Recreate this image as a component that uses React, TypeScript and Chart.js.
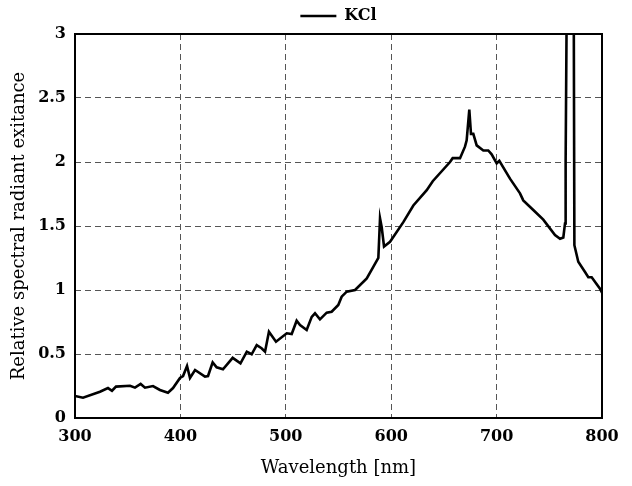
import React, { useEffect, useRef } from "react";
import { Chart, registerables } from "chart.js";

Chart.register(...registerables);

const seriesLabel = "KCl";

const wavelengths: number[] = [
  300, 307.6, 323.7, 331.3, 335.1, 338.9, 352.2, 356.9, 362.3, 366.4, 374, 380.6, 388.2, 393,
  399.6, 402.5, 406.3, 409.1, 413.9, 423.3, 426.2, 430.6, 434.4, 440.4, 449.6, 457, 463, 467.6,
  472.4, 477, 480.3, 484, 490.7, 500.9, 505.6, 510.3, 513.5, 519.8, 524.6, 527.7, 532.4, 538.8,
  543.5, 549.8, 553, 557.8, 565.7, 576.8, 583, 587.8, 589.4, 591, 593.2, 598.9, 611.5, 621,
  633.7, 639.4, 655.8, 658.3, 665.3, 670, 671.6, 674.1, 675.7, 677.9, 681.1, 687.4, 692.1,
  695.3, 700.1, 702.6, 712.7, 722.2, 725.3, 734.8, 744.3, 755.4, 760.2, 763.3, 764.9, 765.5,
  766.5, 773.2, 773.8, 777.5, 783.9, 787, 790.2, 798.1, 800,
];

const exitance: number[] = [
  0.172, 0.159, 0.205, 0.234, 0.213, 0.245, 0.252, 0.237, 0.266, 0.237, 0.25, 0.219, 0.198, 0.234,
  0.3125, 0.328, 0.406, 0.3125, 0.375, 0.323, 0.328, 0.435, 0.396, 0.38, 0.47, 0.427, 0.518, 0.498,
  0.57, 0.545, 0.518, 0.674, 0.596, 0.662, 0.656, 0.76, 0.727, 0.688, 0.79, 0.818, 0.771, 0.823,
  0.83, 0.883, 0.948, 0.987, 1.0, 1.09, 1.18, 1.25, 1.56, 1.49, 1.34, 1.377, 1.53, 1.66,
  1.78, 1.85, 2.0, 2.03, 2.03, 2.12, 2.17, 2.41, 2.22, 2.22, 2.13, 2.09, 2.09,
  2.06, 1.99, 2.01, 1.87, 1.755, 1.7, 1.625, 1.55, 1.43, 1.4, 1.41, 1.52, 2.0,
  3.2, 3.2, 1.35, 1.22, 1.14, 1.1, 1.1, 1.01, 0.98,
];

const xTicks = { min: 300, max: 800, step: 100 };
const yTicks = { min: 0, max: 3, step: 0.5 };

const xTitle = "Wavelength [nm]";
const yTitle = "Relative spectral radiant exitance";

const FONT = "'DejaVu Serif', serif";

const framePlugin = {
  id: "frame",
  afterLayout(chart: any) {
    const lg = chart.legend;
    if (lg) {
      lg.left = chart.chartArea.left;
      lg.right = chart.chartArea.right;
    }
  },
  afterDatasetsDraw(chart: any) {
    const { ctx, chartArea } = chart;
    ctx.save();
    ctx.strokeStyle = "#000";
    ctx.lineWidth = 2;
    ctx.strokeRect(chartArea.left, chartArea.top, chartArea.right - chartArea.left, chartArea.bottom - chartArea.top);
    ctx.restore();
  },
};

export default function App() {
  const ref = useRef<HTMLCanvasElement>(null);

  useEffect(() => {
    if (!ref.current) return;
    const data = wavelengths.map((x, i) => ({ x, y: exitance[i] }));
    const chart = new Chart(ref.current, {
      type: "line",
      data: {
        datasets: [
          {
            label: seriesLabel,
            data,
            borderColor: "#000",
            backgroundColor: "#000",
            borderWidth: 2.6,
            pointRadius: 0,
            tension: 0,
          },
        ],
      },
      options: {
        animation: false,
        responsive: false,
        layout: { padding: { left: 0, right: 30, top: 2, bottom: 0 } },
        plugins: {
          legend: {
            display: true,
            position: "top",
            labels: {
              usePointStyle: true,
              pointStyle: "line",
              pointStyleWidth: 36,
              color: "#000",
              font: { family: FONT, size: 16, weight: "bold" },
              padding: 6,
            },
          },
          tooltip: { enabled: false },
        },
        scales: {
          x: {
            type: "linear",
            min: xTicks.min,
            max: xTicks.max,
            afterFit: (s: any) => {
              s.height = 68;
            },
            ticks: {
              stepSize: xTicks.step,
              color: "#000",
              padding: 9,
              font: { family: FONT, size: 16, weight: "bold" },
              callback: (v: any) => String(v),
            },
            grid: { color: "#555", lineWidth: 1, drawTicks: false },
            border: { display: false, dash: [6, 4] },
            title: {
              display: true,
              text: xTitle,
              color: "#000",
              font: { family: FONT, size: 18 },
              padding: { top: 0, bottom: 7 },
            },
          },
          y: {
            type: "linear",
            min: yTicks.min,
            max: yTicks.max,
            afterFit: (s: any) => {
              s.width = 75;
            },
            ticks: {
              stepSize: yTicks.step,
              color: "#000",
              padding: 9,
              font: { family: FONT, size: 16, weight: "bold" },
              callback: (v: any) => String(v),
            },
            grid: { color: "#555", lineWidth: 1, drawTicks: false },
            border: { display: false, dash: [6, 4] },
            title: {
              display: true,
              text: yTitle,
              color: "#000",
              font: { family: FONT, size: 18 },
              padding: { top: 9, bottom: 0 },
            },
          },
        },
      },
      plugins: [framePlugin],
    });
    return () => chart.destroy();
  }, []);

  return (
    <div style={{ position: "absolute", left: 0, top: 0, width: 632, height: 486, background: "#fff" }}>
      <canvas ref={ref} width={632} height={486} style={{ display: "block" }} />
    </div>
  );
}
